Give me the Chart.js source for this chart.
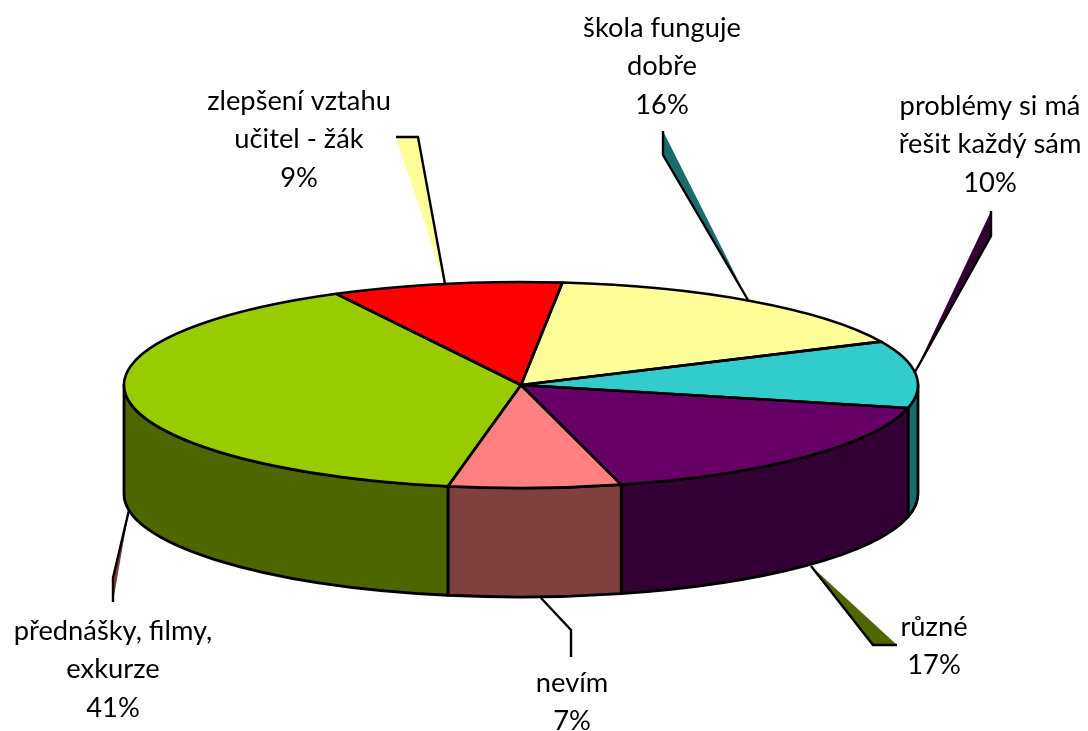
<!DOCTYPE html>
<html><head><meta charset="utf-8">
<style>html,body{margin:0;padding:0;background:#fff}canvas{display:block}</style>
<script src="https://cdn.jsdelivr.net/npm/chart.js@4"></script>
</head><body><canvas id="c" width="1088" height="731"></canvas>
<script>
const categories = ['škola funguje dobře','problémy si má řešit každý sám','různé','nevím','přednášky, filmy, exkurze','zlepšení vztahu učitel - žák'];
const shares = [16,10,17,7,41,9];
const topColors = ['#FFFF99','#33CCCC','#660066','#FF8080','#99CC00','#FF0000'];
const sideColors = ['#808050','#1C6B6B','#330033','#804040','#4D6600','#800000'];
const labelLines = [['škola funguje','dobře'],['problémy si má','řešit každý sám'],['různé'],['nevím'],['přednášky, filmy,','exkurze'],['zlepšení vztahu','učitel - žák']];

// layout of the flattened pie
const CX=521, CY=385, RX=397, RY=103, DEPTH=109;
const labelAnchors=[[662,28],[990,106],[934,627],[572,683],[113,631],[299,101]];
const LINE=38.5;
const leaders=[
 {fill:'#FFFF99',poly:[[396,137],[418,137],[445,284]],stroke:[[396,137],[418,137],[445,284]]},
 {fill:'#1C6B6B',poly:[[663,131],[663,155],[748,300]],stroke:[[663,131],[663,155],[748,300]]},
 {fill:'#330033',poly:[[991,211],[991,236],[915,372]],stroke:[[991,211],[991,236],[915,372]]},
 {fill:'#4D6600',poly:[[811,566],[873,645],[897,645]],stroke:[[811,566],[873,645],[897,645]]},
 {fill:'#804040',poly:[[129,510],[113,578],[113,602]],stroke:[[129,510],[113,578],[113,602]]},
 {fill:null,stroke:[[541,598],[571,630],[571,657]]}
];

// Perspective correction: the far half of the disc is compressed, the near half stretched
function warp(a){ // a: canvas radians, measured from 3 o'clock
  const t=a+Math.PI/2;
  const e=-0.07-2.41*Math.cos(t)+3.8*Math.sin(t)+2.12*Math.cos(2*t)-1.0*Math.sin(3*t);
  return a+e*Math.PI/180;
}
const perspective={
  id:'perspective',
  afterDatasetsUpdate(chart){
    chart.getDatasetMeta(0).data.forEach(arc=>{
      arc.startAngle=warp(arc.startAngle);
      arc.endAngle=warp(arc.endAngle);
      arc.circumference=arc.endAngle-arc.startAngle;
    });
  },
  beforeDatasetsDraw(chart){
    const ctx=chart.ctx, arcs=chart.getDatasetMeta(0).data;
    ctx.save();
    ctx.lineJoin='miter';ctx.lineWidth=2.4;ctx.strokeStyle='#000';
    leaders.forEach(l=>{
      if(l.fill){ctx.beginPath();l.poly.forEach((p,i)=>i?ctx.lineTo(p[0],p[1]):ctx.moveTo(p[0],p[1]));ctx.closePath();ctx.fillStyle=l.fill;ctx.fill();}
      ctx.beginPath();l.stroke.forEach((p,i)=>i?ctx.lineTo(p[0],p[1]):ctx.moveTo(p[0],p[1]));ctx.stroke();
    });
    // extruded rim of the near half
    ctx.lineWidth=2.8;ctx.lineJoin='round';
    arcs.forEach((arc,i)=>{
      [-2*Math.PI,0,2*Math.PI].forEach(shift=>{
        const lo=Math.max(arc.startAngle+shift,0), hi=Math.min(arc.endAngle+shift,Math.PI);
        if(hi<=lo)return;
        ctx.beginPath();
        ctx.ellipse(arc.x,arc.y,RX,RY,0,lo,hi);
        ctx.ellipse(arc.x,arc.y+DEPTH,RX,RY,0,hi,lo,true);
        ctx.closePath();
        ctx.fillStyle=sideColors[i];ctx.fill();ctx.stroke();
      });
    });
    ctx.restore();
  },
  beforeDatasetDraw(chart){
    const ctx=chart.ctx;
    ctx.save();
    ctx.translate(CX,CY);ctx.scale(1,RY/RX);ctx.translate(-CX,-CY);
  },
  afterDatasetDraw(chart){
    const ctx=chart.ctx;
    ctx.restore();
    ctx.save();
    ctx.lineWidth=2.6;ctx.strokeStyle='#000';ctx.lineJoin='round';
    chart.getDatasetMeta(0).data.forEach(arc=>{
      ctx.beginPath();
      ctx.moveTo(arc.x,arc.y);
      ctx.ellipse(arc.x,arc.y,RX,RY,0,arc.startAngle,arc.endAngle);
      ctx.closePath();
      ctx.stroke();
    });
    ctx.restore();
  },
  afterDraw(chart){
    const ctx=chart.ctx;
    ctx.save();
    ctx.font='27.3px Lato';ctx.fillStyle='#000';ctx.textAlign='center';ctx.textBaseline='middle';
    labelLines.forEach((lines,i)=>{
      const [x,y]=labelAnchors[i];
      const all=lines.concat(shares[i]+'%');
      all.forEach((t,k)=>ctx.fillText(t,x,y+k*LINE));
    });
    ctx.restore();
  }
};
new Chart(document.getElementById('c'),{
  type:'pie',
  data:{labels:categories,datasets:[{data:shares,backgroundColor:topColors,borderWidth:0,clip:false}]},
  options:{
    responsive:false,animation:false,rotation:6.3,radius:RX,
    layout:{padding:{top:39,right:46,left:0,bottom:0}},
    plugins:{legend:{display:false},tooltip:{enabled:false}}
  },
  plugins:[perspective]
});
</script></body></html>
